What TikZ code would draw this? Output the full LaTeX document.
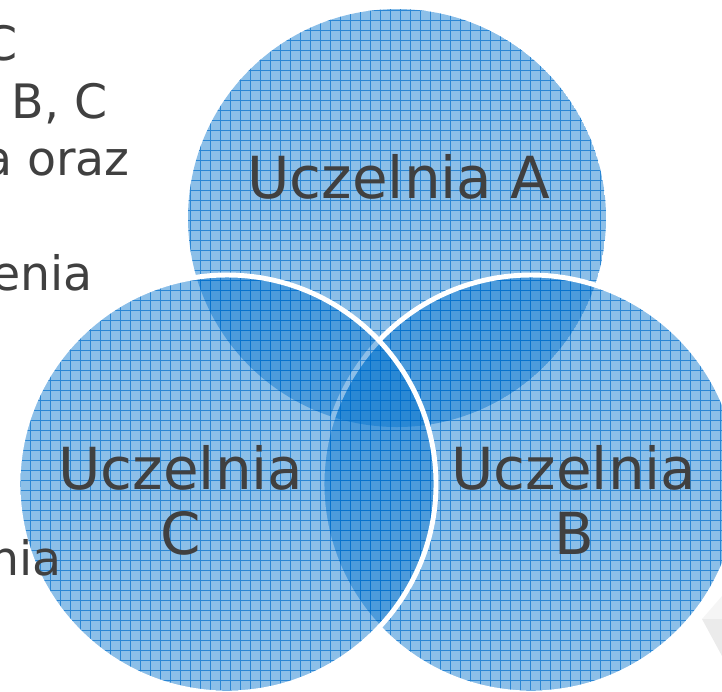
\documentclass[tikz,border=0pt]{standalone}
\usepackage{fontspec}
\setmainfont{DejaVu Sans}
\usepackage{tikz}

\definecolor{vennblue}{RGB}{0,112,204}
\definecolor{gridblue}{RGB}{0,110,205}
\definecolor{textgray}{RGB}{64,64,64}

\tikzset{
	venn/.style={fill=vennblue, fill opacity=0.45},
	venngrid/.style={draw=gridblue, draw opacity=0.7, line width=0.55pt},
	vennrim/.style={draw=white, line width=2.8pt},
	bigtext/.style={text=textgray, align=center, inner sep=0pt, font=\fontsize{33}{37}\selectfont},
	sidetext/.style={text=textgray, inner sep=0pt, anchor=base east, font=\fontsize{27}{32}\selectfont}
}

\begin{document}
\begin{tikzpicture}[x=0.02cm, y=-0.02cm]
	
	%\draw[help lines] (0,0) grid (722,691);
	\useasboundingbox (0,0) rectangle (722,691);
	\clip (0,0) rectangle (722,691);
	
	\fill[gray!8] (702,619) -- (722,596) -- (722,619) -- cycle; % corner
	\fill[gray!16] (702,619) -- (722,619) -- (722,656) -- cycle;
	
	\begin{scope} % A
		\clip (397,218) circle (209);
		\fill[venn] (397,218) circle (209);
		\draw[venngrid] \foreach \g in {180,190,...,620} {(\g,0) -- (\g,440)}
			\foreach \g in {0,10,...,440} {(180,\g) -- (620,\g)};
	\end{scope}
	
	\begin{scope} % B
		\clip (531,484) circle (209);
		\fill[venn] (531,484) circle (209);
		\draw[venngrid] \foreach \g in {320,330,...,722} {(\g,270) -- (\g,691)}
			\foreach \g in {270,280,...,691} {(320,\g) -- (722,\g)};
	\end{scope}
	\draw[vennrim] (531,484) circle (209);
	
	\begin{scope} % C
		\clip (227,484) circle (209);
		\fill[venn] (227,484) circle (209);
		\draw[venngrid] \foreach \g in {10,20,...,440} {(\g,270) -- (\g,691)}
			\foreach \g in {270,280,...,691} {(10,\g) -- (440,\g)};
	\end{scope}
	\draw[vennrim] (227,484) circle (209);
	
	% text on the left, cut by the page edge
	\node[sidetext] (lineone) at (18,60) {C};
	\node[sidetext] (linetwo) at (108,118) {B, C};
	\node[sidetext] (linethree) at (130,175) {a oraz};
	\node[sidetext] (linefour) at (93,290) {enia};
	\node[sidetext] (linefive) at (62,575) {nia};
	
	\node[bigtext, anchor=base] (labA) at (399,198) {Uczelnia A};
	\node[bigtext, anchor=north] (labC) at (181,445) {Uczelnia\\C};
	\node[bigtext, anchor=north] (labB) at (574,445) {Uczelnia\\B};
	
\end{tikzpicture}
\end{document}
